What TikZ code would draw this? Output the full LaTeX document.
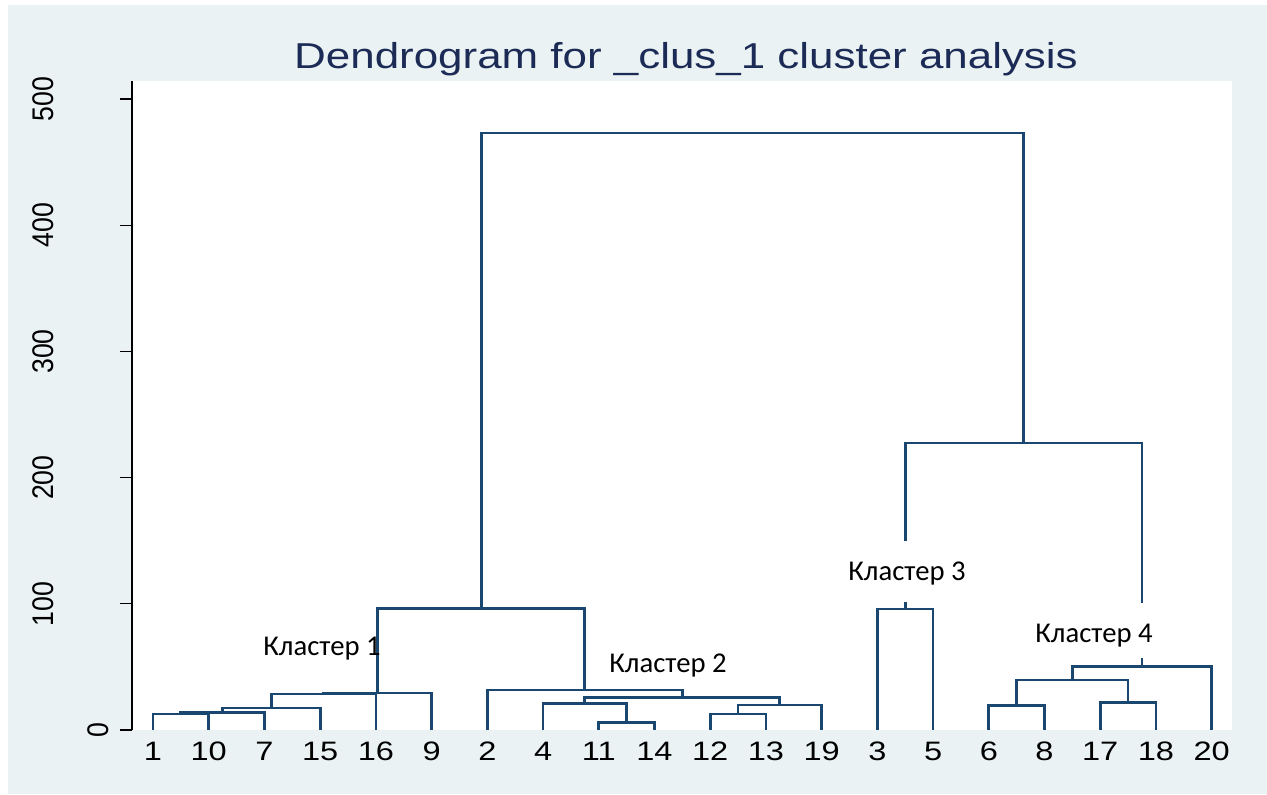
\documentclass[tikz,border=0pt]{standalone}
\usepackage{fontspec}
\usepackage{graphicx}
\setmainfont{Liberation Sans}
\newfontfamily\klfont{Carlito}

\definecolor{pagebg}{RGB}{234,242,243}
\definecolor{treeblue}{RGB}{26,71,111}
\definecolor{titlenavy}{RGB}{28,43,86}

% Stata text is set slightly wide
\newcommand{\stretchx}[1]{\scalebox{1.22}[1]{#1}}
\newcommand{\stretchy}[1]{\scalebox{1}[1.12]{#1}}

\begin{document}
\begin{tikzpicture}[x=0.75pt,y=-0.75pt,
  branch/.style={draw=treeblue,line width=2.05pt,line join=miter},
  leaflab/.style={font=\fontsize{20}{20}\selectfont,anchor=base,inner sep=0pt},
  ylab/.style={font=\fontsize{20}{20}\selectfont,anchor=base,rotate=90,inner sep=0pt},
  clab/.style={font=\klfont\fontsize{21.5}{21.5}\selectfont,anchor=base,inner sep=0pt},
  clabbox/.style={clab,fill=white,inner xsep=2pt}]
\useasboundingbox (0,0) rectangle (1267,794);
\fill[white] (0,0) rectangle (1267,794);
\fill[pagebg] (8,5) rectangle (1267,794);
\fill[white] (132,81) rectangle (1232,730);

% title
\node[font=\fontsize{27}{27}\selectfont,text=titlenavy,anchor=base,inner sep=0pt] (title) at (686,68)
  {\stretchx{Dendrogram for \_clus\_1 cluster analysis}};

% y axis
\coordinate (ax0) at (132,730);
\coordinate (ax1) at (132,81);
\draw[line width=1pt] (ax0) -- (ax1);
\foreach \v in {0,100,200,300,400,500}{
  \coordinate (tk\v) at (120,{730-1.262*\v});
  \draw[line width=1pt] (tk\v) -- ++(12,0);
}
\foreach \v in {100,200,300,400,500}{
  \node[ylab] (yl\v) at (53,{730-1.262*\v}) {\stretchy{\v}};
}
\node[ylab] (yl0) at (108,730) {\stretchy{0}};

% leaves
\foreach \lab [count=\i] in {1,10,7,15,16,9,2,4,11,14,12,13,19,3,5,6,8,17,18,20}{
  \coordinate (p\i) at ({153+55.72*(\i-1)},730);
  \node[leaflab] (lab\i) at ({153+55.72*(\i-1)},760) {\stretchx{\lab}};
}

% merge points
\coordinate (a)  at (180.86,714);
\coordinate (b)  at (222.65,712.5);
\coordinate (c)  at (271.40,708);
\coordinate (d)  at (323.64,694);
\coordinate (e)  at (377.62,693);
\coordinate (f)  at (626.62,722.7);
\coordinate (g)  at (584.83,703.3);
\coordinate (h)  at (738.06,714);
\coordinate (i)  at (779.85,705);
\coordinate (j)  at (682.34,697.3);
\coordinate (k)  at (584.83,690);
\coordinate (l)  at (481.23,608.5);
\coordinate (m)  at (905.22,609);
\coordinate (n)  at (1016.66,705.7);
\coordinate (o)  at (1128.10,702.3);
\coordinate (pp) at (1072.38,680);
\coordinate (q)  at (1142.03,666.5);
\coordinate (r)  at (1023.63,443);
\coordinate (s)  at (752.43,133);

% branches
\draw[branch] (p1) |- (a) -| (p2);
\draw[branch] (a) |- (b) -| (p3);
\draw[branch] (b) |- (c) -| (p4);
\draw[branch] (c) |- (d) -| (p5);
\draw[branch] (d) |- (e) -| (p6);
\draw[branch] (p9) |- (f) -| (p10);
\draw[branch] (p8) |- (g) -| (f);
\draw[branch] (p11) |- (h) -| (p12);
\draw[branch] (h) |- (i) -| (p13);
\draw[branch] (g) |- (j) -| (i);
\draw[branch] (p7) |- (k) -| (j);
\draw[branch] (e) |- (l) -| (k);
\draw[branch] (p14) |- (m) -| (p15);
\draw[branch] (p16) |- (n) -| (p17);
\draw[branch] (p18) |- (o) -| (p19);
\draw[branch] (n) |- (pp) -| (o);
\draw[branch] (pp) |- (q) -| (p20);
\draw[branch] (m) |- (r) -| (q);
\draw[branch] (l) |- (s) -| (r);

% cluster labels
\node[clab] (k1) at (322,655) {Кластер 1};
\node[clab] (k2) at (668,672) {Кластер 2};
\node[clabbox,text height=29.6pt,text depth=16.1pt] (k3) at (907,580.5) {Кластер 3};
\node[clabbox,text height=30pt,text depth=11.25pt] (k4) at (1094,642.5) {Кластер 4};
\end{tikzpicture}
\end{document}
